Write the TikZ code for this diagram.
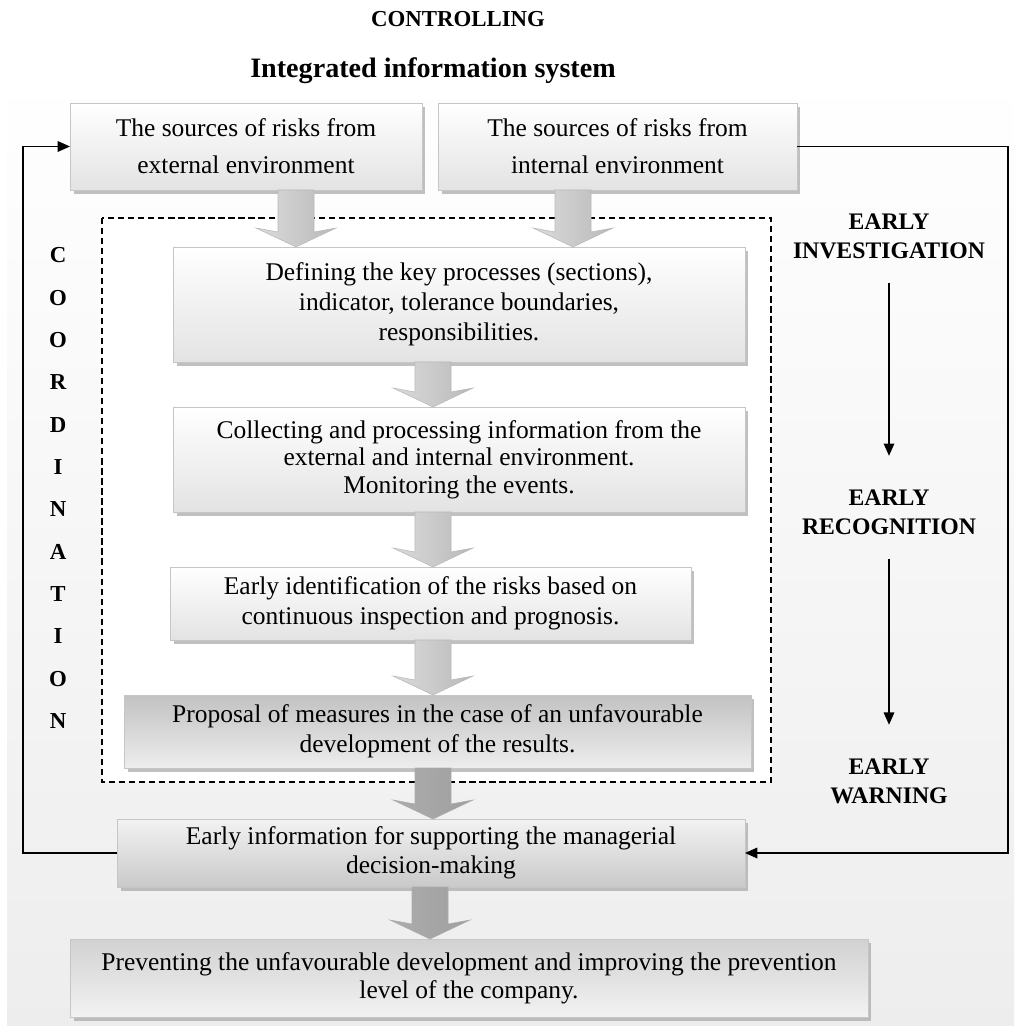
\documentclass[tikz,border=0pt]{standalone}
\usepackage{fontspec}
\setmainfont{Liberation Serif}
\usetikzlibrary{arrows.meta,calc,shadows}
% block arrow: \blkarrow[style]{start}{tip}
\newcommand{\blkarrow}[3][]{%
  \shade[blkshade,#1] ($(#2)+(-18,0)$) -- ($(#3)+(-18,-15)$) -- ($(#3)+(-40,-19)$)
    -- (#3) -- ($(#3)+(40,-19)$) -- ($(#3)+(18,-15)$) -- ($(#2)+(18,0)$) -- cycle;}
\begin{document}
\begin{tikzpicture}[x=0.02cm,y=-0.02cm,
    procbox/.style={draw=gray!45,top color=white,bottom color=gray!22,align=center,
      inner sep=2pt,outer sep=0pt,
      drop shadow={shadow xshift=2pt,shadow yshift=-2.5pt,fill=gray!70,opacity=0.7}},
    boxfont/.style={font=\fontsize{14.5}{#1}\selectfont},
    blkshade/.style={left color=gray!28,right color=gray!55,draw=gray!55,line width=0.3pt},
    darkarrow/.style={left color=gray!65,middle color=gray!35,right color=gray!75,draw=gray!65},
    conn/.style={draw=black,line width=0.8pt},
    tip/.style={-{Triangle[length=7pt,width=6pt]}},
    earlylbl/.style={font=\bfseries\fontsize{13.5}{16.5}\selectfont,align=center,inner sep=0pt},
    letter/.style={font=\bfseries\fontsize{13}{15}\selectfont,anchor=base,inner sep=0pt}]
  \useasboundingbox (0,0) rectangle (1014,1026);
  \fill[white] (0,0) rectangle (1014,1026);
  \shade[top color=white,bottom color=gray!14] (7,72) rectangle (1014,1026);
  \draw[dash pattern=on 3.5pt off 2.2pt,line width=0.6pt,fill=white] (102,218) rectangle (771,782);

  \node[font=\bfseries\fontsize{13}{15}\selectfont,anchor=base] (ctrl) at (458,27) {CONTROLLING};
  \node[font=\bfseries\fontsize{16}{18}\selectfont,anchor=base] (iis) at (433,78) {Integrated information system};

  \node[procbox,boxfont=21,minimum width=7.04cm,minimum height=1.74cm] (ext) at (246,146.5)
    {The sources of risks from\\ external environment};
  \node[procbox,boxfont=21,minimum width=7.18cm,minimum height=1.74cm] (int) at (617.5,146.5)
    {The sources of risks from\\ internal environment};
  \node[procbox,boxfont=17,minimum width=11.44cm,minimum height=2.3cm] (b1) at (459,304.5)
    {Defining the key processes (sections),\\ indicator, tolerance boundaries,\\ responsibilities.};
  \node[procbox,boxfont=15.6,minimum width=11.44cm,minimum height=2.1cm] (b2) at (459,459.5)
    {Collecting and processing information from the\\ external and internal environment.\\ Monitoring the events.};
  \node[procbox,boxfont=17,minimum width=10.42cm,minimum height=1.46cm] (b3) at (430.5,603.5)
    {Early identification of the risks based on\\ continuous inspection and prognosis.};
  \node[procbox,boxfont=17,top color=gray!48,bottom color=gray!14,minimum width=12.54cm,minimum height=1.46cm] (b4) at (437.5,731.5)
    {Proposal of measures in the case of an unfavourable\\ development of the results.};
  \node[procbox,boxfont=16.4,top color=gray!10,bottom color=gray!42,minimum width=12.56cm,minimum height=1.36cm] (b5) at (431,853)
    {Early information for supporting the managerial\\ decision-making};
  \node[procbox,boxfont=16,top color=gray!36,bottom color=gray!10,minimum width=15.96cm,minimum height=1.56cm] (b6) at (469,978)
    {Preventing the unfavourable development and improving the prevention\\ level of the company.};

  \coordinate (ca) at (296,0);
  \coordinate (cb) at (573,0);
  \coordinate (cm) at (433,0);
  \coordinate (cl) at (430,0);
  \blkarrow{ext.south -| ca}{b1.north -| ca}
  \blkarrow{int.south -| cb}{b1.north -| cb}
  \blkarrow{b1.south -| cm}{b2.north -| cm}
  \blkarrow{b2.south -| cm}{b3.north -| cm}
  \blkarrow{b3.south -| cm}{b4.north -| cm}
  \blkarrow[darkarrow]{b4.south -| cm}{b5.north -| cm}
  \blkarrow[darkarrow]{b5.south -| cl}{b6.north -| cl}

  \foreach \l [count=\i] in {C,O,O,R,D,I,N,A,T,I,O,N}
    \node[letter] (co\i) at (58,{263+(\i-1)*42.3}) {\l};

  \node[earlylbl] (einv) at (889,236) {EARLY\\ INVESTIGATION};
  \node[earlylbl] (erec) at (889,512) {EARLY\\ RECOGNITION};
  \node[earlylbl] (ewarn) at (889,781) {EARLY\\ WARNING};
  \draw[conn,tip,shorten <=14pt,shorten >=19pt] (einv.south) -- (erec.north);
  \draw[conn,tip,shorten <=14pt,shorten >=19pt] (erec.south) -- (ewarn.north);

  \coordinate (lx) at (23,0);
  \coordinate (rx) at (1008,0);
  \draw[conn,tip] (int.east) -| (b5.east -| rx) -- (b5.east);
  \draw[conn,tip] (b5.west) -- (b5.west -| lx) |- (ext.west);
\end{tikzpicture}
\end{document}
